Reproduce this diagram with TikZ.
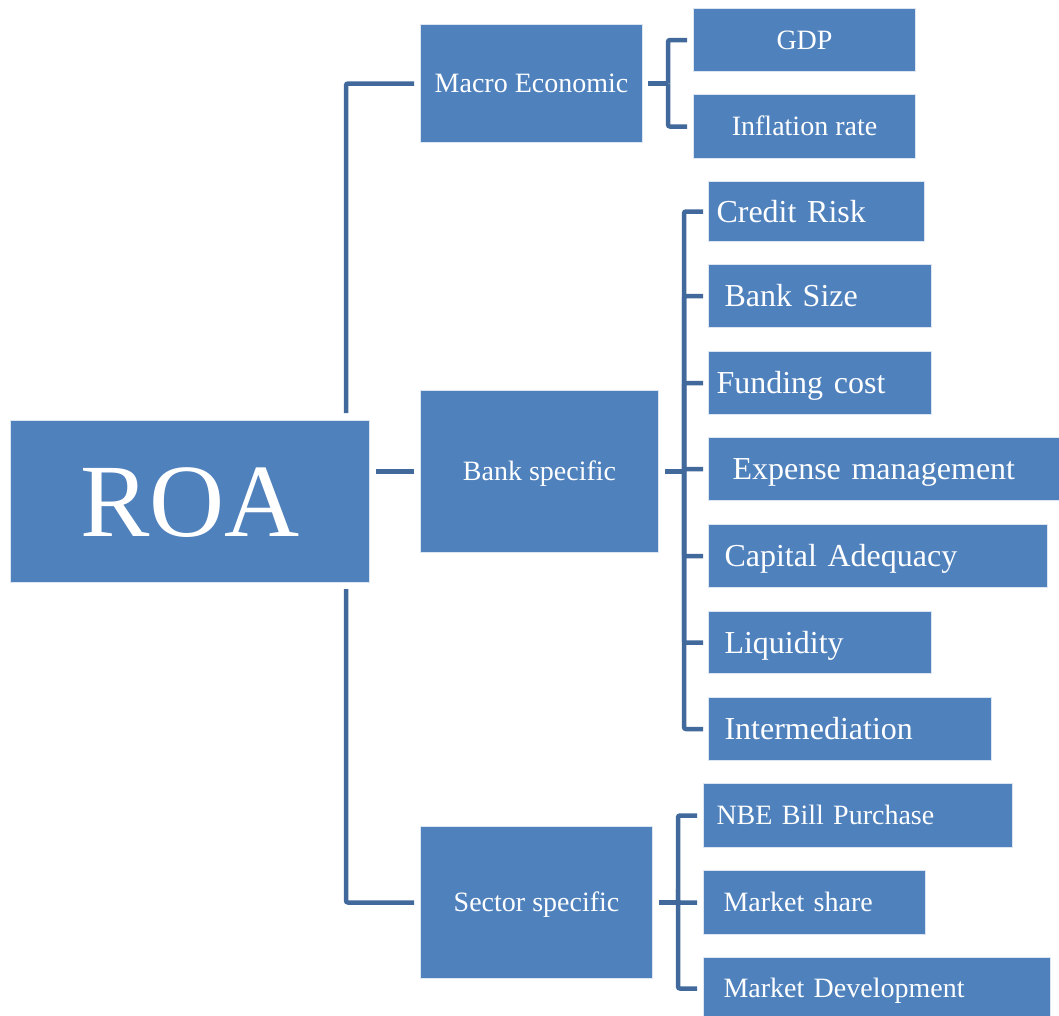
\documentclass[tikz,border=0pt]{standalone}
\usepackage{fontspec}
\setmainfont{Liberation Serif}
\definecolor{boxblue}{HTML}{4F81BD}
\definecolor{lineblue}{HTML}{41699C}
\begin{document}
\begin{tikzpicture}[x=1pt,y=-1pt,
  box/.style={fill=boxblue,draw=white!80!boxblue,line width=1pt,text=white,anchor=north west,
    inner ysep=0pt,text height=18.5pt,text depth=0pt,font=\fontsize{28}{32}\selectfont},
  big/.style={font=\fontsize{32}{36}\selectfont,text height=21pt},
  leaf/.style={box,align=left},
  conn/.style={draw=lineblue,line width=4.5pt,rounded corners=2pt}]
\clip (0,0) rectangle (1059,1015);
% root and first level
\node[box,minimum width=359pt,minimum height=162pt,font=\fontsize{104}{110}\selectfont,text height=69pt] (roa) at (10,420) {ROA};
\node[box,minimum width=222pt,minimum height=118pt] (mac) at (420,24) {Macro Economic};
\node[box,minimum width=238pt,minimum height=162pt] (bank) at (420,390) {Bank specific};
\node[box,minimum width=232pt,minimum height=152pt] (sec) at (420,826) {Sector specific};
% macro children
\node[box,minimum width=222pt,minimum height=63pt] (gdp) at (693,8) {GDP};
\node[box,minimum width=222pt,minimum height=64pt] (inf) at (693,94) {Inflation rate};
% bank children
\node[leaf,big,minimum width=216pt,minimum height=60pt,text width=200pt,inner xsep=8pt] (cr) at (708,181) {Credit Risk};
\node[leaf,big,minimum width=223pt,minimum height=63pt,text width=191pt,inner xsep=16pt] (bs) at (708,264) {Bank Size};
\node[leaf,big,minimum width=223pt,minimum height=63pt,text width=207pt,inner xsep=8pt] (fc) at (708,351) {Funding cost};
\node[leaf,big,minimum width=360pt,minimum height=63pt,text width=312pt,inner xsep=24pt] (em) at (708,437) {Expense management};
\node[leaf,big,minimum width=339pt,minimum height=63pt,text width=307pt,inner xsep=16pt] (ca) at (708,524) {Capital Adequacy};
\node[leaf,big,minimum width=223pt,minimum height=62pt,text width=191pt,inner xsep=16pt] (lq) at (708,611) {Liquidity};
\node[leaf,big,minimum width=283pt,minimum height=63pt,text width=251pt,inner xsep=16pt] (im) at (708,697) {Intermediation};
% sector children
\node[leaf,minimum width=309pt,minimum height=64pt,text width=283pt,inner xsep=13pt] (nbe) at (703,783) {NBE Bill Purchase};
\node[leaf,minimum width=222pt,minimum height=64pt,text width=182pt,inner xsep=20pt] (ms) at (703,870) {Market share};
\node[leaf,minimum width=347pt,minimum height=62pt,text width=307pt,inner xsep=20pt] (md) at (703,957) {Market Development};
% root connectors
\path (roa.east |- bank.west) ++(6,0) coordinate (r1);
\draw[conn] (r1) -- ([xshift=-6pt]bank.west);
\draw[conn] ([xshift=-24pt]roa.north east) ++(0,-7) |- ([xshift=-6pt]mac.west);
\draw[conn] ([xshift=-24pt]roa.south east) ++(0,6) |- ([xshift=-6pt]sec.west);
% macro bracket
\draw[conn] ([xshift=5pt]mac.east) -- ++(20,0) coordinate (mj);
\foreach \c in {gdp,inf} \draw[conn] (mj) |- ([xshift=-6pt]\c.west);
% bank bracket
\draw[conn] ([xshift=6pt]bank.east) -- ++(19,0) coordinate (bj);
\foreach \c in {cr,bs,fc,em,ca,lq,im} \draw[conn] (bj) |- ([xshift=-5pt]\c.west);
% sector bracket
\draw[conn] ([xshift=6pt]sec.east) -- ++(19,0) coordinate (sj);
\foreach \c in {nbe,ms,md} \draw[conn] (sj) |- ([xshift=-6pt]\c.west);
\end{tikzpicture}
\end{document}
